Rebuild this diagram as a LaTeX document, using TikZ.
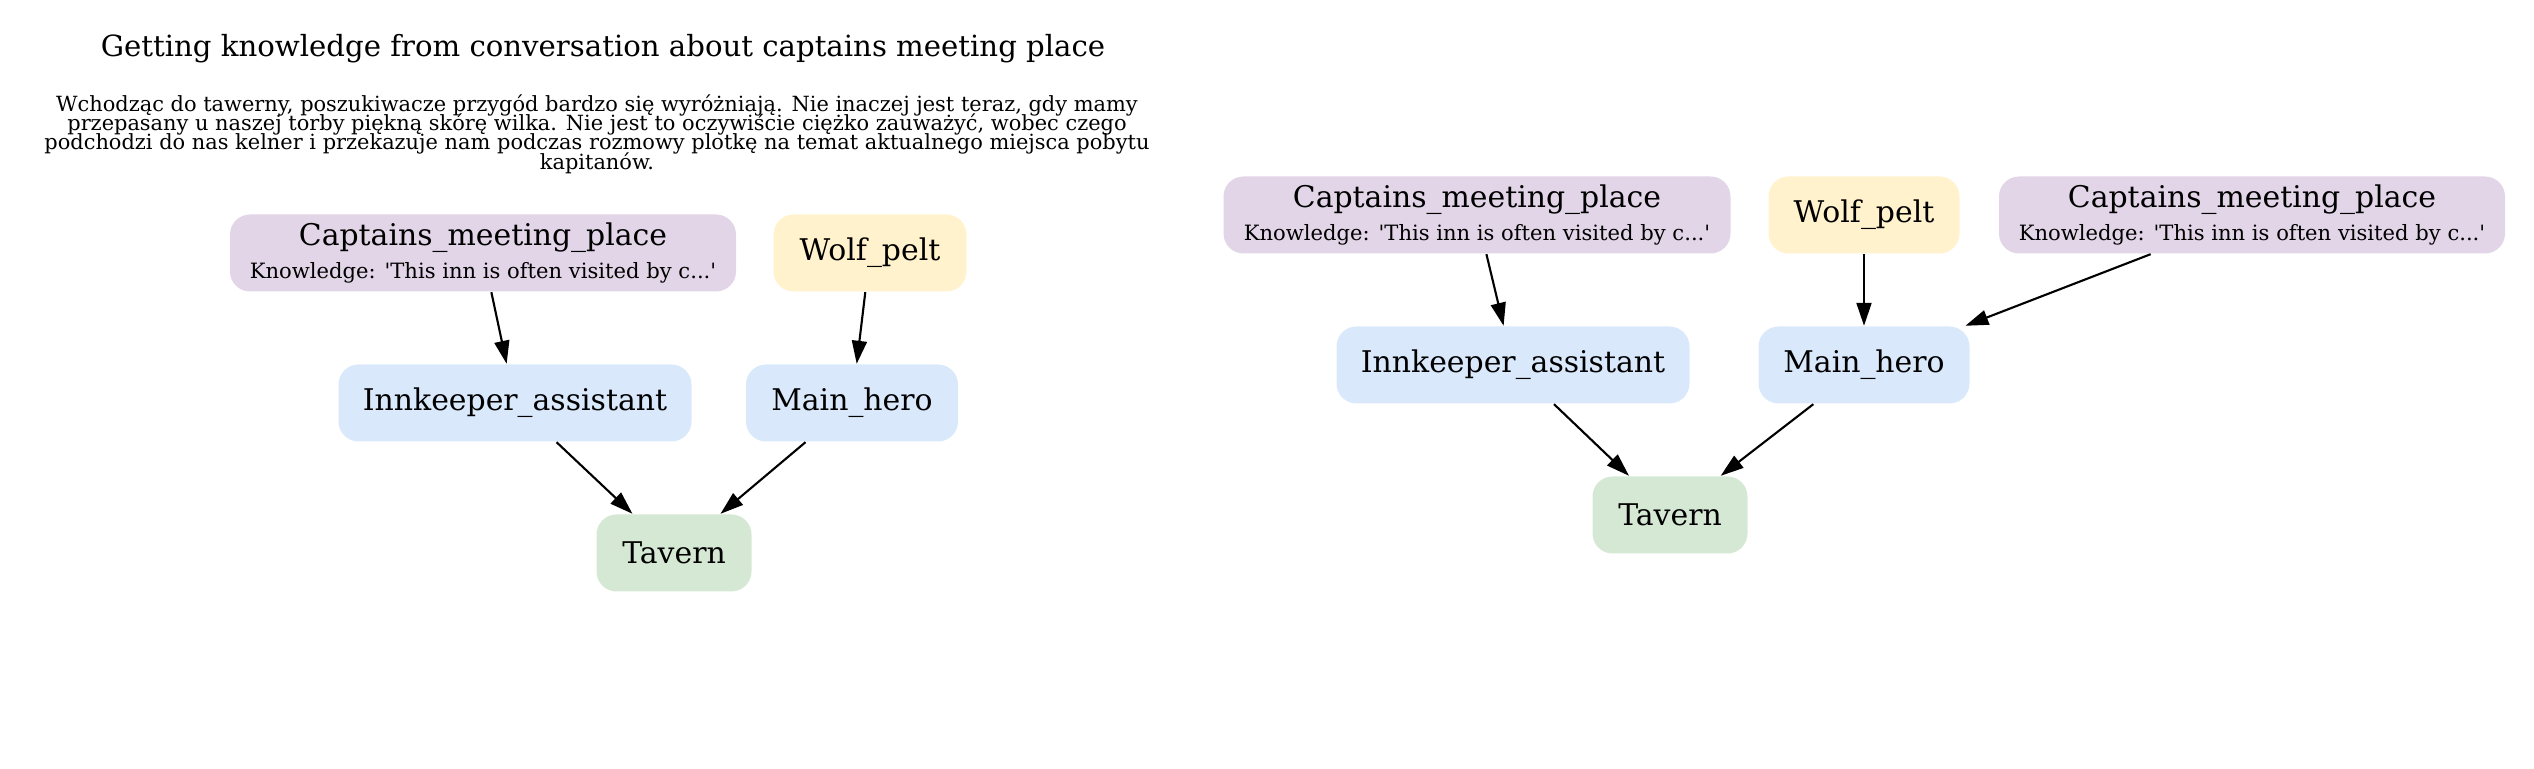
\documentclass[tikz,border=0pt]{standalone}
\usepackage{fontspec}
\newfontfamily\gvserif{DejaVu Serif}
\usetikzlibrary{arrows.meta, positioning}
\definecolor{violetSavoir}{RGB}{225, 213, 231}
\definecolor{jauneObjet}{RGB}{255, 242, 204}
\definecolor{bleuPerso}{RGB}{218, 232, 252}
\definecolor{vertLieu}{RGB}{213, 232, 212}
\setlength{\lineskiplimit}{-100pt}
\newcommand{\savoir}{{\fontsize{6}{9.4}\selectfont Knowledge: \textquotesingle This inn is often visited by c...\textquotesingle}}

\begin{document}
\begin{tikzpicture}[
  blk/.style={rectangle, rounded corners=0.2cm, draw=none, inner sep=0pt,
    minimum height=0.77cm, align=center,
    font=\gvserif\fontsize{8.5}{9.4}\selectfont},
  arr/.style={-{Triangle[length=2.3mm, width=1.5mm]}, line width=0.6pt},
  lbl/.style={align=center, font=\gvserif\fontsize{5.95}{5.53}\selectfont},
]
\useasboundingbox (0,0) rectangle (25.34,-7.69);
\node[anchor=base, font=\gvserif\fontsize{8.3}{10}\selectfont] (titre) at (6.03,-0.57)
  {Getting knowledge from conversation about captains meeting place};
\node[lbl] (texte) at (5.97,-1.34)
  {Wchodząc do tawerny, poszukiwacze przygód bardzo się wyróżniają. Nie inaczej jest teraz, gdy mamy\\
   przepasany u naszej torby piękną skórę wilka. Nie jest to oczywiście ciężko zauważyć, wobec czego\\
   podchodzi do nas kelner i przekazuje nam podczas rozmowy plotkę na temat aktualnego miejsca pobytu\\
   kapitanów.};
\node[blk, fill=violetSavoir, minimum width=5.06cm] (capA)  at (4.83,-2.53)
  {Captains\_meeting\_place\\\savoir};
\node[blk, fill=jauneObjet,   minimum width=1.93cm] (wolfA) at (8.70,-2.53) {Wolf\_pelt};
\node[blk, fill=bleuPerso,    minimum width=3.53cm] (innA)  at (5.15,-4.03) {Innkeeper\_assistant};
\node[blk, fill=bleuPerso,    minimum width=2.12cm] (heroA) at (8.52,-4.03) {Main\_hero};
\node[blk, fill=vertLieu,     minimum width=1.55cm] (tavA)  at (6.74,-5.53) {Tavern};
\draw[arr] (capA) -- (innA);
\draw[arr] (wolfA) -- (heroA);
\draw[arr] (innA) -- (tavA);
\draw[arr] (heroA) -- (tavA);
\node[blk, fill=violetSavoir, minimum width=5.07cm] (capB)  at (14.77,-2.15)
  {Captains\_meeting\_place\\\savoir};
\node[blk, fill=jauneObjet,   minimum width=1.91cm] (wolfB) at (18.64,-2.15) {Wolf\_pelt};
\node[blk, fill=violetSavoir, minimum width=5.06cm] (capC)  at (22.52,-2.15)
  {Captains\_meeting\_place\\\savoir};
\node[blk, fill=bleuPerso,    minimum width=3.53cm] (innB)  at (15.13,-3.65) {Innkeeper\_assistant};
\node[blk, fill=bleuPerso,    minimum width=2.11cm] (heroB) at (18.64,-3.65) {Main\_hero};
\node[blk, fill=vertLieu,     minimum width=1.55cm] (tavB)  at (16.70,-5.15) {Tavern};
\draw[arr] (capB) -- (innB);
\draw[arr] (wolfB) -- (heroB);
\draw[arr] (capC) -- (heroB);
\draw[arr] (innB) -- (tavB);
\draw[arr] (heroB) -- (tavB);
\end{tikzpicture}
\end{document}
